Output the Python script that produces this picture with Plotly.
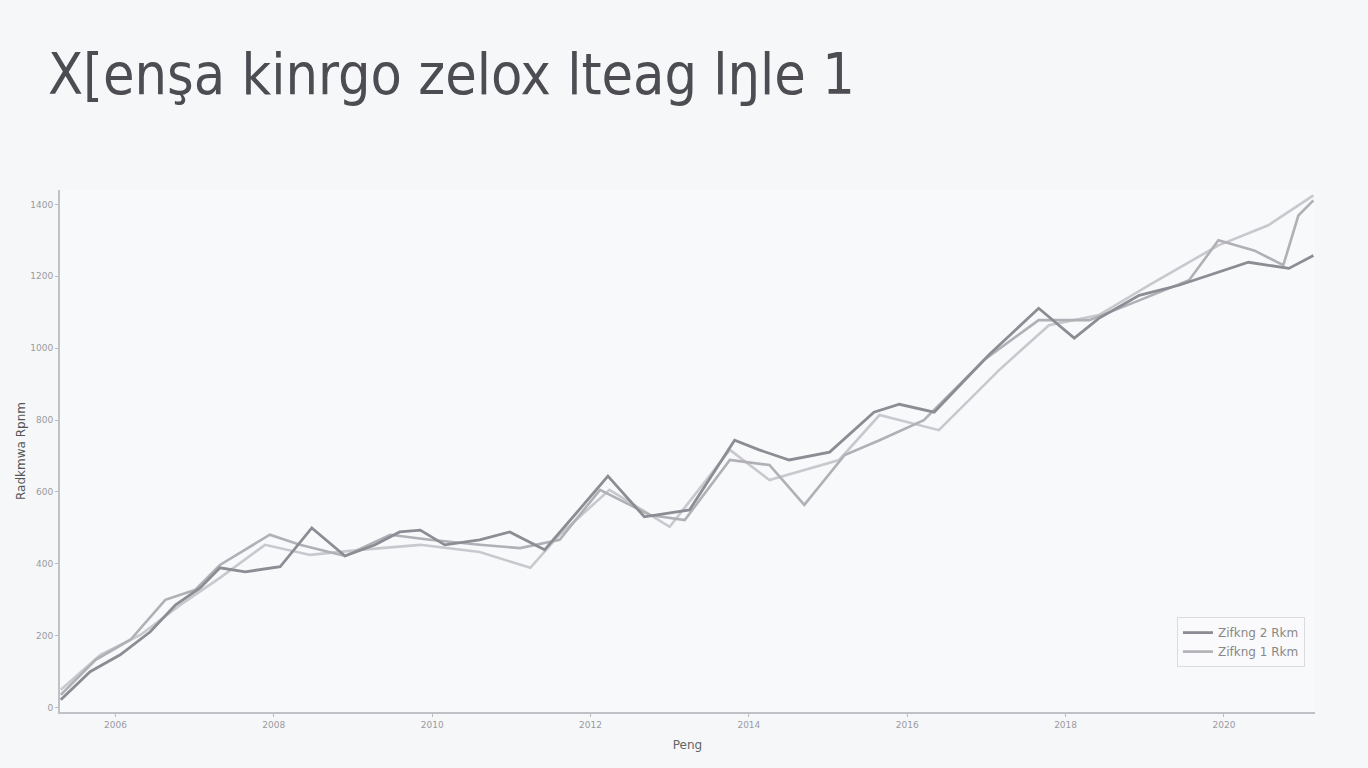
import plotly.graph_objects as go

title_text = "X[enşa kinrgo zelox lteag lŋle 1"
x_title = "Peng"
y_title = "Radkmwa Rpnm"

series_names = ["Zifkng 2 Rkm", "Zifkng 1 Rkm", "Zifkng 3 Rkm"]

x_dark = [2005.31, 2005.68, 2006.06, 2006.44, 2006.76, 2007.07, 2007.32, 2007.64, 2008.08, 2008.48,
          2008.90, 2009.28, 2009.59, 2009.85, 2010.16, 2010.60, 2010.98, 2011.42, 2011.80, 2012.22,
          2012.68, 2013.25, 2013.82, 2014.13, 2014.51, 2015.02, 2015.58, 2015.90, 2016.34, 2017.03,
          2017.66, 2018.11, 2018.42, 2018.93, 2019.43, 2019.93, 2020.31, 2020.82, 2021.13]
y_dark = [22, 100, 147, 211, 286, 333, 389, 378, 392, 500,
          422, 453, 489, 494, 453, 467, 489, 439, 536, 644,
          531, 550, 744, 717, 689, 711, 822, 844, 822, 981,
          1111, 1028, 1083, 1147, 1175, 1211, 1239, 1222, 1258]

x_mid = [2005.31, 2005.75, 2006.19, 2006.63, 2007.01, 2007.32, 2007.95, 2008.33, 2008.90, 2009.47,
         2009.97, 2010.60, 2011.11, 2011.61, 2012.12, 2012.75, 2013.19, 2013.76, 2014.26, 2014.70,
         2015.21, 2015.65, 2016.21, 2016.97, 2017.66, 2018.30, 2018.93, 2019.56, 2019.93, 2020.38,
         2020.75, 2020.94, 2021.13]
y_mid = [36, 133, 189, 300, 328, 397, 481, 453, 422, 481,
         467, 453, 444, 467, 606, 536, 522, 689, 675, 564,
         703, 744, 800, 967, 1078, 1078, 1133, 1189, 1300, 1272,
         1231, 1369, 1411]

x_light = [2005.31, 2005.81, 2006.32, 2006.82, 2007.32, 2007.89, 2008.46, 2009.09, 2009.85, 2010.60,
           2011.24, 2011.61, 2012.24, 2013.00, 2013.76, 2014.26, 2015.14, 2015.65, 2016.40, 2017.16,
           2017.79, 2018.42, 2019.05, 2019.93, 2020.56, 2021.13]
y_light = [50, 147, 203, 286, 361, 453, 425, 439, 453, 433,
           389, 481, 606, 503, 717, 633, 689, 814, 772, 939,
           1064, 1092, 1175, 1286, 1342, 1425]

x_ticks = [2006, 2008, 2010, 2012, 2014, 2016, 2018, 2020]
y_ticks = [0, 200, 400, 600, 800, 1000, 1200, 1400]

fig = go.Figure()
fig.add_trace(go.Scatter(x=x_light, y=y_light, mode="lines", name=series_names[2],
                         line=dict(color="#c8c8ce", width=2.6), showlegend=False))
fig.add_trace(go.Scatter(x=x_mid, y=y_mid, mode="lines", name=series_names[1],
                         line=dict(color="#b0b0b6", width=2.6), legendrank=2))
fig.add_trace(go.Scatter(x=x_dark, y=y_dark, mode="lines", name=series_names[0],
                         line=dict(color="#8c8c94", width=2.8), legendrank=1))

fig.update_layout(
    width=1368, height=768,
    paper_bgcolor="#f5f7f9",
    plot_bgcolor="#f8f9fb",
    margin=dict(l=60, r=53, t=190, b=56),
    title=dict(text=title_text, x=0.035, xanchor="left", y=0.903, yanchor="middle",
               font=dict(family="DejaVu Sans Condensed, Liberation Sans Narrow, DejaVu Sans",
                         size=57, color="#4c4c52")),
    font=dict(family="DejaVu Sans", color="#999"),
    xaxis=dict(range=[2005.3, 2021.15], tickvals=x_ticks, ticktext=[str(v) for v in x_ticks],
               showgrid=False, zeroline=False, showline=True, linecolor="#c0c0c6", linewidth=2,
               ticks="outside", ticklen=3, tickcolor="#bbb", tickfont=dict(size=9, color="#9a9a9f"),
               title=dict(text=x_title, font=dict(size=12, color="#666"), standoff=12)),
    yaxis=dict(range=[-12, 1440], tickvals=y_ticks, ticktext=[str(v) for v in y_ticks],
               showgrid=False, zeroline=False, showline=True, linecolor="#c0c0c6", linewidth=2,
               ticks="outside", ticklen=3, tickcolor="#bbb", tickfont=dict(size=9, color="#9a9a9f"),
               title=dict(text=y_title, font=dict(size=12, color="#555"), standoff=2)),
    legend=dict(x=0.992, y=0.086, xanchor="right", yanchor="bottom",
                bgcolor="rgba(250,250,252,0.9)", bordercolor="#dcdce0", borderwidth=1,
                font=dict(size=12, color="#888")),
)

fig.write_html("out.html", config={"displayModeBar": False},
               post_script="document.body.style.margin='0';")
